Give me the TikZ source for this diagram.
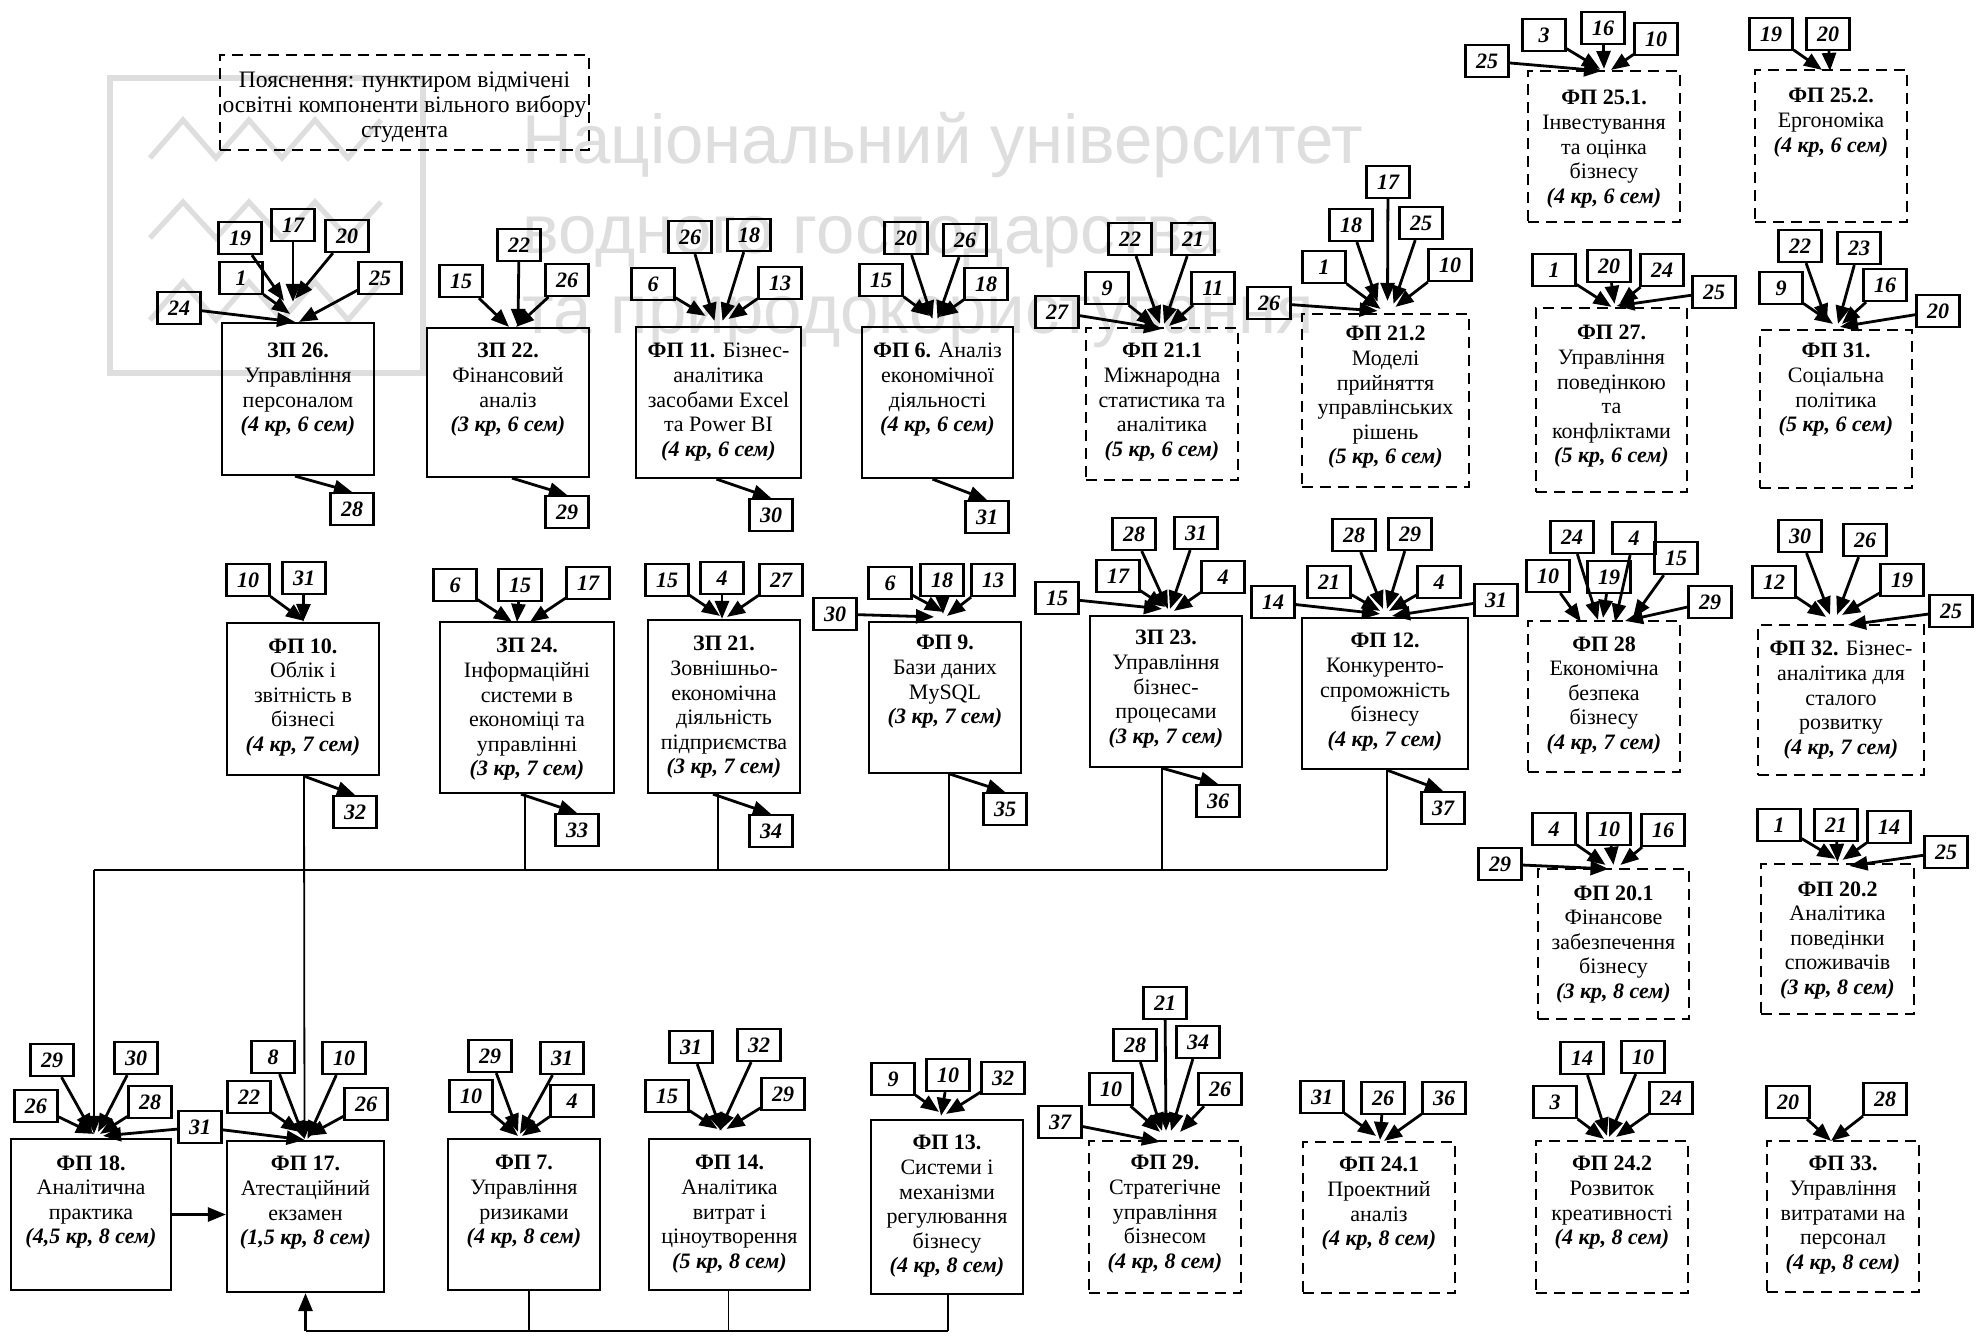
\documentclass[tikz,border=0pt]{standalone}
\usepackage{fontspec}
\setmainfont{Liberation Serif}
\newfontfamily\wmfont{Liberation Sans}
\usetikzlibrary{arrows.meta,calc}
\tikzset{
  solidbox/.style={draw, line width=1.1pt, inner sep=0pt},
  dashbox/.style={draw, line width=1.1pt, dash pattern=on 5.5pt off 3.5pt, inner sep=0pt},
  txt/.style={align=center, inner sep=0pt, font=\fontsize{11}{12.3}\selectfont},
  legtxt/.style={align=center, inner sep=0pt, font=\fontsize{11.8}{12.5}\selectfont},
  numbox/.style={draw, line width=1.1pt, minimum width=21.5pt, minimum height=16pt, inner sep=0pt, font=\fontsize{11}{12}\selectfont\bfseries\itshape},
  arr/.style={line width=1.4pt, -{Triangle[length=9pt,width=7pt]}},
  busline/.style={line width=0.8pt},
  busarr/.style={line width=0.9pt, -{Triangle[length=9pt,width=7pt]}},
  wmline/.style={draw=black!13, line width=2.6pt},
  wmtext/.style={anchor=base west, inner sep=0pt, text=black!13, font=\wmfont\fontsize{34.5}{40}\selectfont},
}
\newcommand\krs[1]{\textbf{\textit{(#1)}}}
\newcommand\kbox[8]{%
  \node[#2, minimum width={(#5-#3)*0.5pt}, minimum height={(#6-#4)*0.5pt}] (#1) at ({(#3+#5)/2},{(#4+#6)/2}) {};
  \node[txt, anchor=north] (#1l) at ({(#3+#5)/2},{#4+#7}) {#8};
}
\newcommand\inarr[3]{\draw[arr] (#1) -- ($(#2.north)+(#3)$);}
\newcommand\outarr[3]{\draw[arr] ($(#1.south)+(#2,0)$) -- (#3.north);}
\begin{document}
\begin{tikzpicture}[x=0.5pt,y=-0.5pt]
\fill[white] (0,0) rectangle (1977,1335);
\useasboundingbox (0,0) rectangle (1977,1335);

% watermark
\draw[wmline] (110,78) rectangle (423,373);
\draw[wmline, line join=miter] (150,158) -- (183,120) -- (216,158) -- (249,120) -- (282,158) -- (315,120) -- (348,158) -- (381,120);
\draw[wmline, line join=miter] (150,238) -- (183,202) -- (216,238) -- (249,202) -- (282,238) -- (315,202) -- (348,238) -- (381,202);
\draw[wmline, line join=miter] (150,320) -- (183,282) -- (216,320) -- (249,282) -- (282,320) -- (315,282) -- (348,320) -- (381,282);
\node[wmtext] (wm1) at (522,163) {Національний університет};
\node[wmtext] (wm2) at (522,253) {водного господарства};
\node[wmtext] (wm3) at (522,333) {та природокористування};

% legend
\node[dashbox, minimum width=184.5pt, minimum height=47.5pt] (legend) at (404.5,102.5) {};
\node[legtxt] (legendl) at (404.5,107) {Пояснення: пунктиром відмічені\\освітні компоненти вільного вибору\\студента};

% ---------- row 1 ----------
\kbox{z26}{solidbox}{222}{323}{374}{475}{20}{\textbf{ЗП 26.}\\Управління\\персоналом\\\krs{4 кр, 6 сем}}
\kbox{z22}{solidbox}{427}{328}{589}{477}{15}{\textbf{ЗП 22.}\\Фінансовий\\аналіз\\\krs{3 кр, 6 сем}}
\kbox{f11}{solidbox}{636}{327}{801}{478}{16}{\textbf{ФП 11.} Бізнес-\\аналітика\\засобами Excel\\та Power BI\\\krs{4 кр, 6 сем}}
\kbox{f6}{solidbox}{862}{327}{1013}{478}{16}{\textbf{ФП 6.} Аналіз\\економічної\\діяльності\\\krs{4 кр, 6 сем}}
\kbox{f211}{dashbox}{1086}{328}{1238}{480}{15}{\textbf{ФП 21.1}\\Міжнародна\\статистика та\\аналітика\\\krs{5 кр, 6 сем}}
\kbox{f212}{dashbox}{1302}{314}{1469}{487}{12}{\textbf{ФП 21.2}\\Моделі\\прийняття\\управлінських\\рішень\\\krs{5 кр, 6 сем}}
\kbox{f251}{dashbox}{1528}{71}{1680}{222}{19}{\textbf{ФП 25.1.}\\Інвестування\\та оцінка\\бізнесу\\\krs{4 кр, 6 сем}}
\kbox{f252}{dashbox}{1755}{70}{1907}{222}{18}{\textbf{ФП 25.2.}\\Ергономіка\\\krs{4 кр, 6 сем}}
\kbox{f27}{dashbox}{1536}{308}{1687}{492}{17}{\textbf{ФП 27.}\\Управління\\поведінкою\\та\\конфліктами\\\krs{5 кр, 6 сем}}
\kbox{f31}{dashbox}{1760}{330}{1912}{488}{13}{\textbf{ФП 31.}\\Соціальна\\політика\\\krs{5 кр, 6 сем}}

% ---------- row 2 ----------
\kbox{f10}{solidbox}{227}{623}{379}{775}{15}{\textbf{ФП 10.}\\Облік і\\звітність в\\бізнесі\\\krs{4 кр, 7 сем}}
\kbox{z24}{solidbox}{440}{622}{614}{793}{16}{\textbf{ЗП 24.}\\Інформаційні\\системи в\\економіці та\\управлінні\\\krs{3 кр, 7 сем}}
\kbox{z21}{solidbox}{648}{620}{800}{793}{16}{\textbf{ЗП 21.}\\Зовнішньо-\\економічна\\діяльність\\підприємства\\\krs{3 кр, 7 сем}}
\kbox{f9}{solidbox}{869}{622}{1021}{773}{13}{\textbf{ФП 9.}\\Бази даних\\MySQL\\\krs{3 кр, 7 сем}}
\kbox{z23}{solidbox}{1090}{616}{1242}{767}{14}{\textbf{ЗП 23.}\\Управління\\бізнес-\\процесами\\\krs{3 кр, 7 сем}}
\kbox{f12}{solidbox}{1302}{618}{1468}{769}{15}{\textbf{ФП 12.}\\Конкуренто-\\спроможність\\бізнесу\\\krs{4 кр, 7 сем}}
\kbox{f28}{dashbox}{1528}{621}{1680}{772}{15}{\textbf{ФП 28}\\Економічна\\безпека\\бізнесу\\\krs{4 кр, 7 сем}}
\kbox{f32}{dashbox}{1758}{625}{1924}{775}{16}{\textbf{ФП 32.} Бізнес-\\аналітика для\\сталого\\розвитку\\\krs{4 кр, 7 сем}}
\kbox{f201}{dashbox}{1538}{869}{1689}{1019}{16}{\textbf{ФП 20.1}\\Фінансове\\забезпечення\\бізнесу\\\krs{3 кр, 8 сем}}
\kbox{f202}{dashbox}{1761}{864}{1914}{1014}{17}{\textbf{ФП 20.2}\\Аналітика\\поведінки\\споживачів\\\krs{3 кр, 8 сем}}

% ---------- row 3 ----------
\kbox{f18}{solidbox}{11}{1139}{171}{1290}{16}{\textbf{ФП 18.}\\Аналітична\\практика\\\krs{4,5 кр, 8 сем}}
\kbox{f17}{solidbox}{227}{1141}{384}{1292}{15}{\textbf{ФП 17.}\\Атестаційний\\екзамен\\\krs{1,5 кр, 8 сем}}
\kbox{f7}{solidbox}{448}{1139}{600}{1290}{16}{\textbf{ФП 7.}\\Управління\\ризиками\\\krs{4 кр, 8 сем}}
\kbox{f14}{solidbox}{649}{1139}{810}{1290}{16}{\textbf{ФП 14.}\\Аналітика\\витрат і\\ціноутворення\\\krs{5 кр, 8 сем}}
\kbox{f13}{solidbox}{871}{1120}{1023}{1294}{15}{\textbf{ФП 13.}\\Системи і\\механізми\\регулювання\\бізнесу\\\krs{4 кр, 8 сем}}
\kbox{f29}{dashbox}{1089}{1141}{1241}{1293}{14}{\textbf{ФП 29.}\\Стратегічне\\управління\\бізнесом\\\krs{4 кр, 8 сем}}
\kbox{f241}{dashbox}{1303}{1142}{1455}{1293}{15}{\textbf{ФП 24.1}\\Проектний\\аналіз\\\krs{4 кр, 8 сем}}
\kbox{f242}{dashbox}{1536}{1141}{1688}{1293}{15}{\textbf{ФП 24.2}\\Розвиток\\креативності\\\krs{4 кр, 8 сем}}
\kbox{f33}{dashbox}{1767}{1141}{1919}{1292}{15}{\textbf{ФП 33.}\\Управління\\витратами на\\персонал\\\krs{4 кр, 8 сем}}

% ---------- number boxes ----------
\node[numbox] (z26a24) at (179,308) {24};
\node[numbox] (z26a1) at (241,278) {1};
\node[numbox] (z26a19) at (240,238) {19};
\node[numbox] (z26a17) at (293,225) {17};
\node[numbox] (z26a20) at (347,236) {20};
\node[numbox] (z26a25) at (380,278) {25};
\node[numbox] (z26o) at (352,509) {28};
\node[numbox] (z22a15) at (461,281) {15};
\node[numbox] (z22a22) at (519,245) {22};
\node[numbox] (z22a26) at (567,280) {26};
\node[numbox] (z22o) at (567,512) {29};
\node[numbox] (f11a6) at (653,284) {6};
\node[numbox] (f11a26) at (690,237) {26};
\node[numbox] (f11a18) at (749,235) {18};
\node[numbox] (f11a13) at (780,283) {13};
\node[numbox] (f11o) at (771,515) {30};
\node[numbox] (f6a15) at (881,280) {15};
\node[numbox] (f6a20) at (906,238) {20};
\node[numbox] (f6a26) at (965,240) {26};
\node[numbox] (f6a18) at (986,284) {18};
\node[numbox] (f6o) at (987,517) {31};
\node[numbox] (f211a27) at (1057,312) {27};
\node[numbox] (f211a9) at (1107,288) {9};
\node[numbox] (f211a22) at (1130,239) {22};
\node[numbox] (f211a21) at (1193,239) {21};
\node[numbox] (f211a11) at (1213,288) {11};
\node[numbox] (f212a26) at (1269,303) {26};
\node[numbox] (f212a1) at (1324,267) {1};
\node[numbox] (f212a18) at (1351,225) {18};
\node[numbox] (f212a17) at (1388,182) {17};
\node[numbox] (f212a25) at (1421,223) {25};
\node[numbox] (f212a10) at (1450,265) {10};
\node[numbox] (f251a25) at (1487,61) {25};
\node[numbox] (f251a3) at (1544,35) {3};
\node[numbox] (f251a16) at (1603,28) {16};
\node[numbox] (f251a10) at (1656,39) {10};
\node[numbox] (f252a19) at (1771,34) {19};
\node[numbox] (f252a20) at (1828,34) {20};
\node[numbox] (f27a1) at (1554,270) {1};
\node[numbox] (f27a20) at (1609,266) {20};
\node[numbox] (f27a24) at (1662,270) {24};
\node[numbox] (f27a25) at (1714,292) {25};
\node[numbox] (f31a9) at (1781,288) {9};
\node[numbox] (f31a22) at (1800,246) {22};
\node[numbox] (f31a23) at (1859,248) {23};
\node[numbox] (f31a16) at (1885,285) {16};
\node[numbox] (f31a20) at (1938,311) {20};
\node[numbox] (f10a10) at (248,580) {10};
\node[numbox] (f10a31) at (304,578) {31};
\node[numbox] (f10o) at (355,812) {32};
\node[numbox] (z24a6) at (455,585) {6};
\node[numbox] (z24a15) at (520,585) {15};
\node[numbox] (z24a17) at (588,583) {17};
\node[numbox] (z24o) at (577,830) {33};
\node[numbox] (z21a15) at (667,580) {15};
\node[numbox] (z21a4) at (722,578) {4};
\node[numbox] (z21a27) at (781,580) {27};
\node[numbox] (z21o) at (771,831) {34};
\node[numbox] (f9a30) at (835,614) {30};
\node[numbox] (f9a6) at (890,583) {6};
\node[numbox] (f9a18) at (942,580) {18};
\node[numbox] (f9a13) at (993,580) {13};
\node[numbox] (f9o) at (1005,809) {35};
\node[numbox] (z23a15) at (1057,598) {15};
\node[numbox] (z23a17) at (1118,576) {17};
\node[numbox] (z23a28) at (1134,534) {28};
\node[numbox] (z23a31) at (1196,533) {31};
\node[numbox] (z23a4) at (1223,577) {4};
\node[numbox] (z23o) at (1218,801) {36};
\node[numbox] (f12a14) at (1273,602) {14};
\node[numbox] (f12a21) at (1329,582) {21};
\node[numbox] (f12a28) at (1354,535) {28};
\node[numbox] (f12a29) at (1410,534) {29};
\node[numbox] (f12a4) at (1439,582) {4};
\node[numbox] (f12a31) at (1496,600) {31};
\node[numbox] (f12o) at (1443,808) {37};
\node[numbox] (f28a10) at (1548,576) {10};
\node[numbox] (f28a24) at (1572,537) {24};
\node[numbox] (f28a19) at (1609,577) {19};
\node[numbox] (f28a4) at (1634,538) {4};
\node[numbox] (f28a15) at (1676,558) {15};
\node[numbox] (f28a29) at (1710,602) {29};
\node[numbox] (f32a12) at (1774,582) {12};
\node[numbox] (f32a30) at (1800,536) {30};
\node[numbox] (f32a26) at (1865,540) {26};
\node[numbox] (f32a19) at (1902,580) {19};
\node[numbox] (f32a25) at (1951,611) {25};
\node[numbox] (f201a29) at (1500,864) {29};
\node[numbox] (f201a4) at (1554,829) {4};
\node[numbox] (f201a10) at (1609,829) {10};
\node[numbox] (f201a16) at (1663,830) {16};
\node[numbox] (f202a1) at (1779,825) {1};
\node[numbox] (f202a21) at (1836,825) {21};
\node[numbox] (f202a14) at (1889,827) {14};
\node[numbox] (f202a25) at (1946,852) {25};
\node[numbox] (f18a26) at (36,1106) {26};
\node[numbox] (f18a29) at (52,1060) {29};
\node[numbox] (f18a30) at (136,1058) {30};
\node[numbox] (f18a28) at (150,1102) {28};
\node[numbox] (f18a31) at (200,1127) {31};
\node[numbox] (f17a8) at (273,1057) {8};
\node[numbox] (f17a10) at (344,1058) {10};
\node[numbox] (f17a22) at (249,1097) {22};
\node[numbox] (f17a26) at (366,1104) {26};
\node[numbox] (f7a29) at (490,1056) {29};
\node[numbox] (f7a31) at (562,1058) {31};
\node[numbox] (f7a10) at (471,1096) {10};
\node[numbox] (f7a4) at (572,1101) {4};
\node[numbox] (f14a31) at (691,1047) {31};
\node[numbox] (f14a32) at (759,1045) {32};
\node[numbox] (f14a15) at (667,1096) {15};
\node[numbox] (f14a29) at (783,1094) {29};
\node[numbox] (f13a9) at (893,1079) {9};
\node[numbox] (f13a10) at (948,1075) {10};
\node[numbox] (f13a32) at (1003,1078) {32};
\node[numbox] (f29a37) at (1060,1122) {37};
\node[numbox] (f29a10) at (1111,1089) {10};
\node[numbox] (f29a28) at (1135,1045) {28};
\node[numbox] (f29a21) at (1165,1003) {21};
\node[numbox] (f29a34) at (1198,1042) {34};
\node[numbox] (f29a26) at (1220,1089) {26};
\node[numbox] (f241a31) at (1322,1097) {31};
\node[numbox] (f241a26) at (1383,1098) {26};
\node[numbox] (f241a36) at (1444,1098) {36};
\node[numbox] (f242a3) at (1555,1102) {3};
\node[numbox] (f242a14) at (1582,1058) {14};
\node[numbox] (f242a10) at (1643,1057) {10};
\node[numbox] (f242a24) at (1671,1098) {24};
\node[numbox] (f33a20) at (1788,1102) {20};
\node[numbox] (f33a28) at (1885,1099) {28};

% ---------- arrows ----------
\inarr{z26a24}{z26}{-3,0}
\inarr{z26a1}{z26}{-8,-8}
\inarr{z26a19}{z26}{-14,-21}
\inarr{z26a17}{z26}{-5,-20}
\inarr{z26a20}{z26}{-3,-23}
\inarr{z26a25}{z26}{1,0}
\outarr{z26}{-3}{z26o}

\inarr{z22a15}{z22}{1,0}
\inarr{z22a22}{z22}{10,0}
\inarr{z22a26}{z22}{8,0}
\outarr{z22}{4}{z22o}

\inarr{f11a6}{f11}{-13,-10}
\inarr{f11a26}{f11}{-4,-5}
\inarr{f11a18}{f11}{4,-5}
\inarr{f11a13}{f11}{10,-7}
\outarr{f11}{-2}{f11o}

\inarr{f6a15}{f6}{-8,-10}
\inarr{f6a20}{f6}{-5,-7}
\inarr{f6a26}{f6}{0,-7}
\inarr{f6a18}{f6}{2,-9}
\outarr{f6}{-5}{f6o}

\inarr{f211a27}{f211}{0,2}
\inarr{f211a9}{f211}{-7,-1}
\inarr{f211a22}{f211}{-2,-3}
\inarr{f211a21}{f211}{2,-3}
\inarr{f211a11}{f211}{7,-1}

\inarr{f212a26}{f212}{-8,-2}
\inarr{f212a1}{f212}{-5,-4}
\inarr{f212a18}{f212}{-8,-11}
\inarr{f212a17}{f212}{2,-12}
\inarr{f212a25}{f212}{8,-9}
\inarr{f212a10}{f212}{10,-6}

\inarr{f251a25}{f251}{-2,1}
\inarr{f251a3}{f251}{-4,-1}
\inarr{f251a16}{f251}{0,-1}
\inarr{f251a10}{f251}{7,0}

\inarr{f252a19}{f252}{-9,1}
\inarr{f252a20}{f252}{-1,2}

\inarr{f27a1}{f27}{0,0}
\inarr{f27a20}{f27}{3,-3}
\inarr{f27a24}{f27}{8,-3}
\inarr{f27a25}{f27}{5,-1}

\inarr{f31a9}{f31}{-3,-5}
\inarr{f31a22}{f31}{-9,-7}
\inarr{f31a23}{f31}{2,-5}
\inarr{f31a16}{f31}{6,-5}
\inarr{f31a20}{f31}{4,-2}

\inarr{f10a10}{f10}{1,-1}
\inarr{f10a31}{f10}{0,0}
\outarr{f10}{1}{f10o}

\inarr{z24a6}{z24}{-15,1}
\inarr{z24a15}{z24}{-10,1}
\inarr{z24a17}{z24}{3,1}
\outarr{z24}{-6}{z24o}

\inarr{z21a15}{z21}{-4,-3}
\inarr{z21a4}{z21}{-2,0}
\inarr{z21a27}{z21}{3,-2}
\outarr{z21}{-11}{z21o}

\inarr{f9a30}{f9}{-11,-4}
\inarr{f9a6}{f9}{-2,-9}
\inarr{f9a18}{f9}{-2,-7}
\inarr{f9a13}{f9}{2,-5}
\outarr{f9}{5}{f9o}

\inarr{z23a15}{z23}{-4,-6}
\inarr{z23a17}{z23}{-1,-8}
\inarr{z23a28}{z23}{2,-6}
\inarr{z23a31}{z23}{4,-6}
\inarr{z23a4}{z23}{8,-4}
\outarr{z23}{-4}{z23o}

\inarr{f12a14}{f12}{-5,-3}
\inarr{f12a21}{f12}{-5,-6}
\inarr{f12a28}{f12}{-2,-8}
\inarr{f12a29}{f12}{2,-8}
\inarr{f12a4}{f12}{4,-6}
\inarr{f12a31}{f12}{7,-1}
\outarr{f12}{2}{f12o}

\inarr{f28a10}{f28}{-23,2}
\inarr{f28a24}{f28}{-6,0}
\inarr{f28a19}{f28}{-1,-2}
\inarr{f28a4}{f28}{11,2}
\inarr{f28a15}{f28}{29,-2}
\inarr{f28a29}{f28}{21,1}

\inarr{f32a12}{f32}{-15,-7}
\inarr{f32a30}{f32}{-11,-9}
\inarr{f32a26}{f32}{-4,-9}
\inarr{f32a19}{f32}{1,-9}
\inarr{f32a25}{f32}{7,1}

\inarr{f201a29}{f201}{-5,1}
\inarr{f201a4}{f201}{-8,-3}
\inarr{f201a10}{f201}{0,-3}
\inarr{f201a16}{f201}{7,-3}

\inarr{f202a1}{f202}{-2,-4}
\inarr{f202a21}{f202}{0,-1}
\inarr{f202a14}{f202}{5,-3}
\inarr{f202a25}{f202}{12,3}

\inarr{f18a26}{f18}{3,-4}
\inarr{f18a29}{f18}{1,-6}
\inarr{f18a30}{f18}{7,-6}
\inarr{f18a28}{f18}{9,-4}
\inarr{f18a31}{f18}{12,-2}
\inarr{f18a31}{f17}{-1,0}

\inarr{f17a8}{f17}{-1,-1}
\inarr{f17a10}{f17}{2,-1}
\inarr{f17a22}{f17}{-6,-8}
\inarr{f17a26}{f17}{2,-4}

\inarr{f7a29}{f7}{-6,-6}
\inarr{f7a31}{f7}{-4,-4}
\inarr{f7a10}{f7}{-6,-2}
\inarr{f7a4}{f7}{-2,-2}

\inarr{f14a31}{f14}{-8,-7}
\inarr{f14a32}{f14}{-10,-7}
\inarr{f14a15}{f14}{-12,-9}
\inarr{f14a29}{f14}{-3,-9}

\inarr{f13a9}{f13}{-8,-7}
\inarr{f13a10}{f13}{-6,-3}
\inarr{f13a32}{f13}{-1,-5}

\inarr{f29a37}{f29}{-5,2}
\inarr{f29a10}{f29}{-5,-8}
\inarr{f29a28}{f29}{-3,-9}
\inarr{f29a21}{f29}{1,-9}
\inarr{f29a34}{f29}{6,-9}
\inarr{f29a26}{f29}{15,-8}

\inarr{f241a31}{f241}{-3,-5}
\inarr{f241a26}{f241}{1,-1}
\inarr{f241a36}{f241}{5,0}

\inarr{f242a3}{f242}{-8,-1}
\inarr{f242a14}{f242}{-5,-4}
\inarr{f242a10}{f242}{-3,-3}
\inarr{f242a24}{f242}{4,-3}

\inarr{f33a20}{f33}{-12,1}
\inarr{f33a28}{f33}{-12,1}

% ---------- bus lines ----------
\coordinate (busL) at (94,870);
\coordinate (busR) at (1387,870);
\draw[busline] (busL) -- (busR);
\coordinate (z24b) at ($(z24.south)+(-2,0)$);
\coordinate (z21b) at ($(z21.south)+(-6,0)$);
\coordinate (f9b) at ($(f9.south)+(4,0)$);
\coordinate (z23b) at ($(z23.south)+(-4,0)$);
\coordinate (f12b) at ($(f12.south)+(2,0)$);
\draw[busline] (z24b) -- (z24b |- busL);
\draw[busline] (z21b) -- (z21b |- busL);
\draw[busline] (f9b) -- (f9b |- busL);
\draw[busline] (z23b) -- (z23b |- busL);
\draw[busline] (f12b) -- (busR);
\draw[busarr] (busL) -- ($(f18.north)+(3,-4)$);
\coordinate (f10b) at ($(f10.south)+(1,0)$);
\draw[busarr] (f10b) -- ($(f17.north)+(-1,-1)$);

% FP18 -> FP17
\draw[arr] (f18.east) -- (f18.east -| f17.west);

% bottom collector
\coordinate (botL) at ($(f17.south)+(0,38)$);
\coordinate (f7b) at ($(f7.south)+(5,0)$);
\coordinate (f14b) at ($(f14.south)+(-1,0)$);
\coordinate (f13b) at ($(f13.south)+(1,0)$);
\draw[line width=1.1pt] (botL) -- (f13b |- botL);
\draw[busline] (f7b) -- (f7b |- botL);
\draw[busline] (f14b) -- (f14b |- botL);
\draw[busline] (f13b) -- (f13b |- botL);
\draw[arr] (botL) -- (f17.south);
\end{tikzpicture}
\end{document}
